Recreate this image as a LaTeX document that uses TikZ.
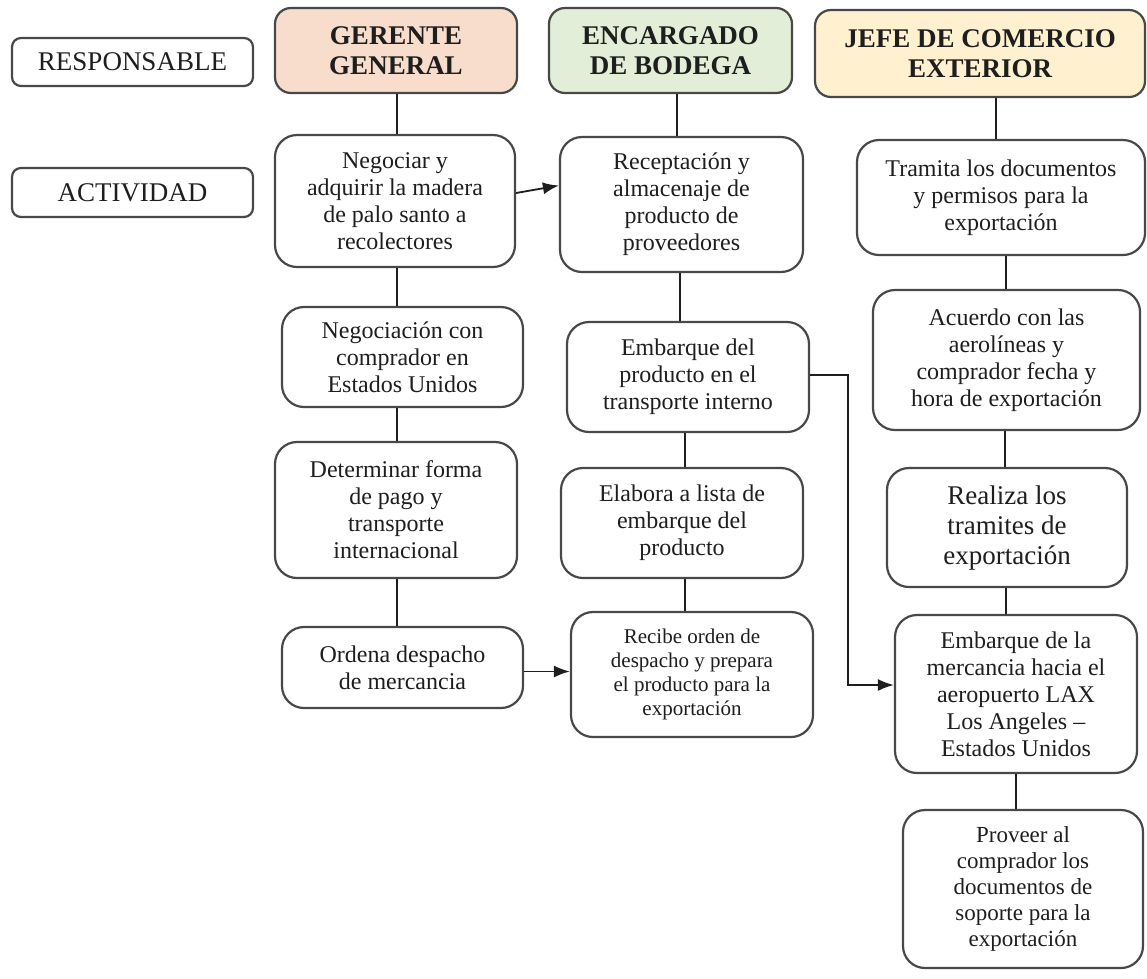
\documentclass[tikz,border=0pt]{standalone}
\usepackage{fontspec}
\setmainfont{Liberation Serif}
\usetikzlibrary{arrows.meta,calc}
\definecolor{peach}{RGB}{248,221,205}
\definecolor{sage}{RGB}{226,238,216}
\definecolor{cream}{RGB}{255,241,207}
\definecolor{edge}{RGB}{72,72,72}
\definecolor{ink}{RGB}{30,30,30}
\begin{document}
\begin{tikzpicture}[x=1pt,y=-1pt,
  boxbase/.style={draw=edge, line width=2.2pt, align=center, inner sep=0pt, text=ink},
  tagbox/.style={boxbase, rounded corners=9pt, font=\fontsize{27}{30}\selectfont},
  headbox/.style={boxbase, rounded corners=16pt, font=\fontsize{27}{30}\selectfont\bfseries},
  actbox/.style={boxbase, rounded corners=22pt, font=\fontsize{24}{27}\selectfont},
  link/.style={draw=ink, line width=1.8pt},
  arr/.style={link, -{Latex[length=16pt,width=12pt]}},
]
\fill[white] (0,0) rectangle (1147,978);
\useasboundingbox (0,0) rectangle (1147,978);

% row labels
\node[tagbox, minimum width=241pt, minimum height=48pt] (resp) at (132.5,62) {RESPONSABLE};
\node[tagbox, minimum width=241pt, minimum height=49pt] (acti) at (132.5,192.5) {ACTIVIDAD};

% column headers
\node[headbox, fill=peach, minimum width=242pt, minimum height=85pt] (gg) at (396,50.5) {GERENTE\\GENERAL};
\node[headbox, fill=sage, minimum width=243pt, minimum height=85pt] (eb) at (670.5,50.5) {ENCARGADO\\DE BODEGA};
\node[headbox, fill=cream, minimum width=330pt, minimum height=87pt] (jc) at (980,53.5) {JEFE DE COMERCIO\\EXTERIOR};

% Gerente general
\node[actbox, minimum width=240pt, minimum height=132pt] (g1) at (395,201) {Negociar y\\adquirir la madera\\de palo santo a\\recolectores};
\node[actbox, minimum width=241pt, minimum height=100pt] (g2) at (402.5,357) {Negociación con\\comprador en\\Estados Unidos};
\node[actbox, minimum width=242pt, minimum height=136pt] (g3) at (396,510) {Determinar forma\\de pago y\\transporte\\internacional};
\node[actbox, minimum width=241pt, minimum height=81pt] (g4) at (402.5,667.5) {Ordena despacho\\de mercancia};

% Encargado de bodega
\node[actbox, minimum width=243pt, minimum height=135pt] (e1) at (681.5,204.5) {Receptación y\\almacenaje de\\producto de\\proveedores};
\node[actbox, minimum width=242pt, minimum height=110pt] (e2) at (688,377) {Embarque del\\producto en el\\transporte interno};
\node[actbox, minimum width=242pt, minimum height=110pt] (e3) at (682,523) {Elabora a lista de\\embarque del\\producto};
\node[actbox, minimum width=242pt, minimum height=125pt, font=\fontsize{21}{24}\selectfont] (e4) at (692,674.5) {Recibe orden de\\despacho y prepara\\el producto para la\\exportación};

% Jefe de comercio exterior
\node[actbox, minimum width=288pt, minimum height=115pt] (j1) at (1001,197.5) {Tramita los documentos\\y permisos para la\\exportación};
\node[actbox, minimum width=267pt, minimum height=140pt] (j2) at (1006.5,360) {Acuerdo con las\\aerolíneas y\\comprador fecha y\\hora de exportación};
\node[actbox, minimum width=240pt, minimum height=119pt, font=\fontsize{27}{30}\selectfont] (j3) at (1007,527.5) {Realiza los\\tramites de\\exportación};
\node[actbox, minimum width=242pt, minimum height=158pt] (j4) at (1016,694) {Embarque de la\\mercancia hacia el\\aeropuerto LAX\\Los Angeles –\\Estados Unidos};
\node[actbox, minimum width=240pt, minimum height=158pt, font=\fontsize{23}{26}\selectfont] (j5) at (1023,889) {Proveer al\\comprador los\\documentos de\\soporte para la\\exportación};

% x positions of the vertical connectors
\coordinate (xg) at (397,0);
\coordinate (xe1) at (677,0);
\coordinate (xe2) at (680,0);
\coordinate (xe3) at (685,0);
\coordinate (xj1) at (996,0);
\coordinate (xj2) at (1006,0);
\coordinate (xj3) at (1005,0);
\coordinate (xj4) at (1006,0);
\coordinate (xj5) at (1016,0);
\coordinate (xr) at (848,0);

% vertical connectors
\draw[link] (gg.south -| xg) -- (g1.north -| xg);
\draw[link] (g1.south -| xg) -- (g2.north -| xg);
\draw[link] (g2.south -| xg) -- (g3.north -| xg);
\draw[link] (g3.south -| xg) -- (g4.north -| xg);

\draw[link] (eb.south -| xe1) -- (e1.north -| xe1);
\draw[link] (e1.south -| xe2) -- (e2.north -| xe2);
\draw[link] (e2.south -| xe3) -- (e3.north -| xe3);
\draw[link] (e3.south -| xe3) -- (e4.north -| xe3);

\draw[link] (jc.south -| xj1) -- (j1.north -| xj1);
\draw[link] (j1.south -| xj2) -- (j2.north -| xj2);
\draw[link] (j2.south -| xj3) -- (j3.north -| xj3);
\draw[link] (j3.south -| xj4) -- (j4.north -| xj4);
\draw[link] (j4.south -| xj5) -- (j5.north -| xj5);

% arrows between columns
\draw[arr] ([yshift=8pt]g1.east) -- ([yshift=19pt]e1.west);
\draw[arr] ([yshift=-4pt]g4.east) -- ([yshift=-4pt]g4.east -| e4.west);
\coordinate (t4) at ([yshift=9pt]j4.west);
\draw[arr] ([yshift=2pt]e2.east) -- ([yshift=2pt]e2.east -| xr) |- (t4);
\end{tikzpicture}
\end{document}
